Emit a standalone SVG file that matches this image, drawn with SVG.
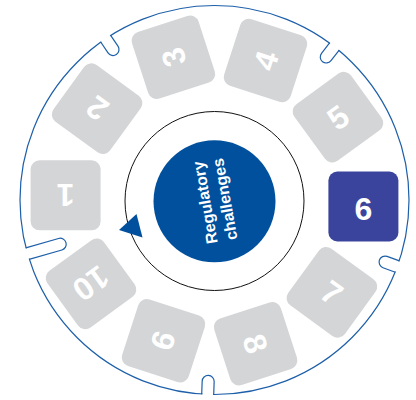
<svg xmlns="http://www.w3.org/2000/svg" width="416" height="400" viewBox="0 0 416 400">
<style>
.ring{fill:none;stroke:#1d5fa9;stroke-width:1.2}
.cover{fill:#ffffff;stroke:none}
.tile{fill:#d4d5d7}
.tile6{fill:#3a449c}
.num{font-family:"Liberation Sans",Arial,sans-serif;font-weight:bold;font-size:32px;fill:#ffffff;text-anchor:middle}
.ctext{font-family:"Liberation Sans",Arial,sans-serif;font-weight:bold;font-size:16px;fill:#ffffff;text-anchor:middle}
</style>
<rect width="416" height="400" fill="#ffffff"/>
<g id="outer-ring">
<circle class="ring" cx="214.5" cy="200" r="194.5"/>
<g transform="rotate(20 214.5 200)"><rect class="cover" x="403" y="194.7" width="9" height="10.6"/><path class="ring" d="M409.1 194 H396 A6 6 0 0 0 396 206 H409.1"/></g>
<g transform="rotate(92 214.5 200)"><rect class="cover" x="403" y="194.7" width="9" height="10.6"/><path class="ring" d="M409.1 194 H396 A6 6 0 0 0 396 206 H409.1"/></g>
<g transform="rotate(164 214.5 200)"><rect class="cover" x="403" y="194.7" width="9" height="10.6"/><path class="ring" d="M409.1 194 H375 A6 6 0 0 0 375 206 H409.1"/></g>
<g transform="rotate(236 214.5 200)"><rect class="cover" x="403" y="194.7" width="9" height="10.6"/><path class="ring" d="M409.1 194 H396 A6 6 0 0 0 396 206 H409.1"/></g>
<g transform="rotate(308 214.5 200)"><rect class="cover" x="403" y="194.7" width="9" height="10.6"/><path class="ring" d="M409.1 194 H396 A6 6 0 0 0 396 206 H409.1"/></g>
</g>
<g id="connectors">
<circle cx="214.5" cy="201" r="89.5" fill="none" stroke="#111111" stroke-width="1"/>
<polygon points="119,230 136.5,214 142.5,237.5" fill="#00509d"/>
</g>
<g id="center">
<circle cx="214.5" cy="201.3" r="61" fill="#00509d"/>
<g transform="translate(214.5 201) rotate(-100)">
<text class="ctext" x="0" y="-4">Regulatory</text>
<text class="ctext" x="0" y="16">challenges</text>
</g>
</g>
<g id="tile1" transform="translate(65.6 195.3) rotate(-180)"><rect class="tile" x="-35" y="-35" width="70" height="70" rx="9"/><text class="num" x="0" y="11.5">1</text></g>
<g id="tile2" transform="translate(97.1 108.7) rotate(-144)"><rect class="tile" x="-35" y="-35" width="70" height="70" rx="9"/><text class="num" x="0" y="11.5">2</text></g>
<g id="tile3" transform="translate(173.4 57.3) rotate(-108)"><rect class="tile" x="-35" y="-35" width="70" height="70" rx="9"/><text class="num" x="0" y="11.5">3</text></g>
<g id="tile4" transform="translate(265.5 60.5) rotate(-72)"><rect class="tile" x="-35" y="-35" width="70" height="70" rx="9"/><text class="num" x="0" y="11.5">4</text></g>
<g id="tile5" transform="translate(338 117.2) rotate(-36)"><rect class="tile" x="-35" y="-35" width="70" height="70" rx="9"/><text class="num" x="0" y="11.5">5</text></g>
<g id="tile6" transform="translate(363.4 206.5)"><rect class="tile6" x="-35" y="-35" width="70" height="70" rx="9"/><text class="num" x="0" y="13">6</text></g>
<g id="tile7" transform="translate(331.9 292.3) rotate(36)"><rect class="tile" x="-35" y="-35" width="70" height="70" rx="9"/><text class="num" x="0" y="11.5">7</text></g>
<g id="tile8" transform="translate(255.6 343.7) rotate(72)"><rect class="tile" x="-35" y="-35" width="70" height="70" rx="9"/><text class="num" x="0" y="11.5">8</text></g>
<g id="tile9" transform="translate(163.5 340.8) rotate(108)"><rect class="tile" x="-35" y="-35" width="70" height="70" rx="9"/><text class="num" x="0" y="11.5">9</text></g>
<g id="tile10" transform="translate(91 283.8) rotate(144)"><rect class="tile" x="-35" y="-35" width="70" height="70" rx="9"/><text class="num" x="0" y="11.5">10</text></g>
</svg>
